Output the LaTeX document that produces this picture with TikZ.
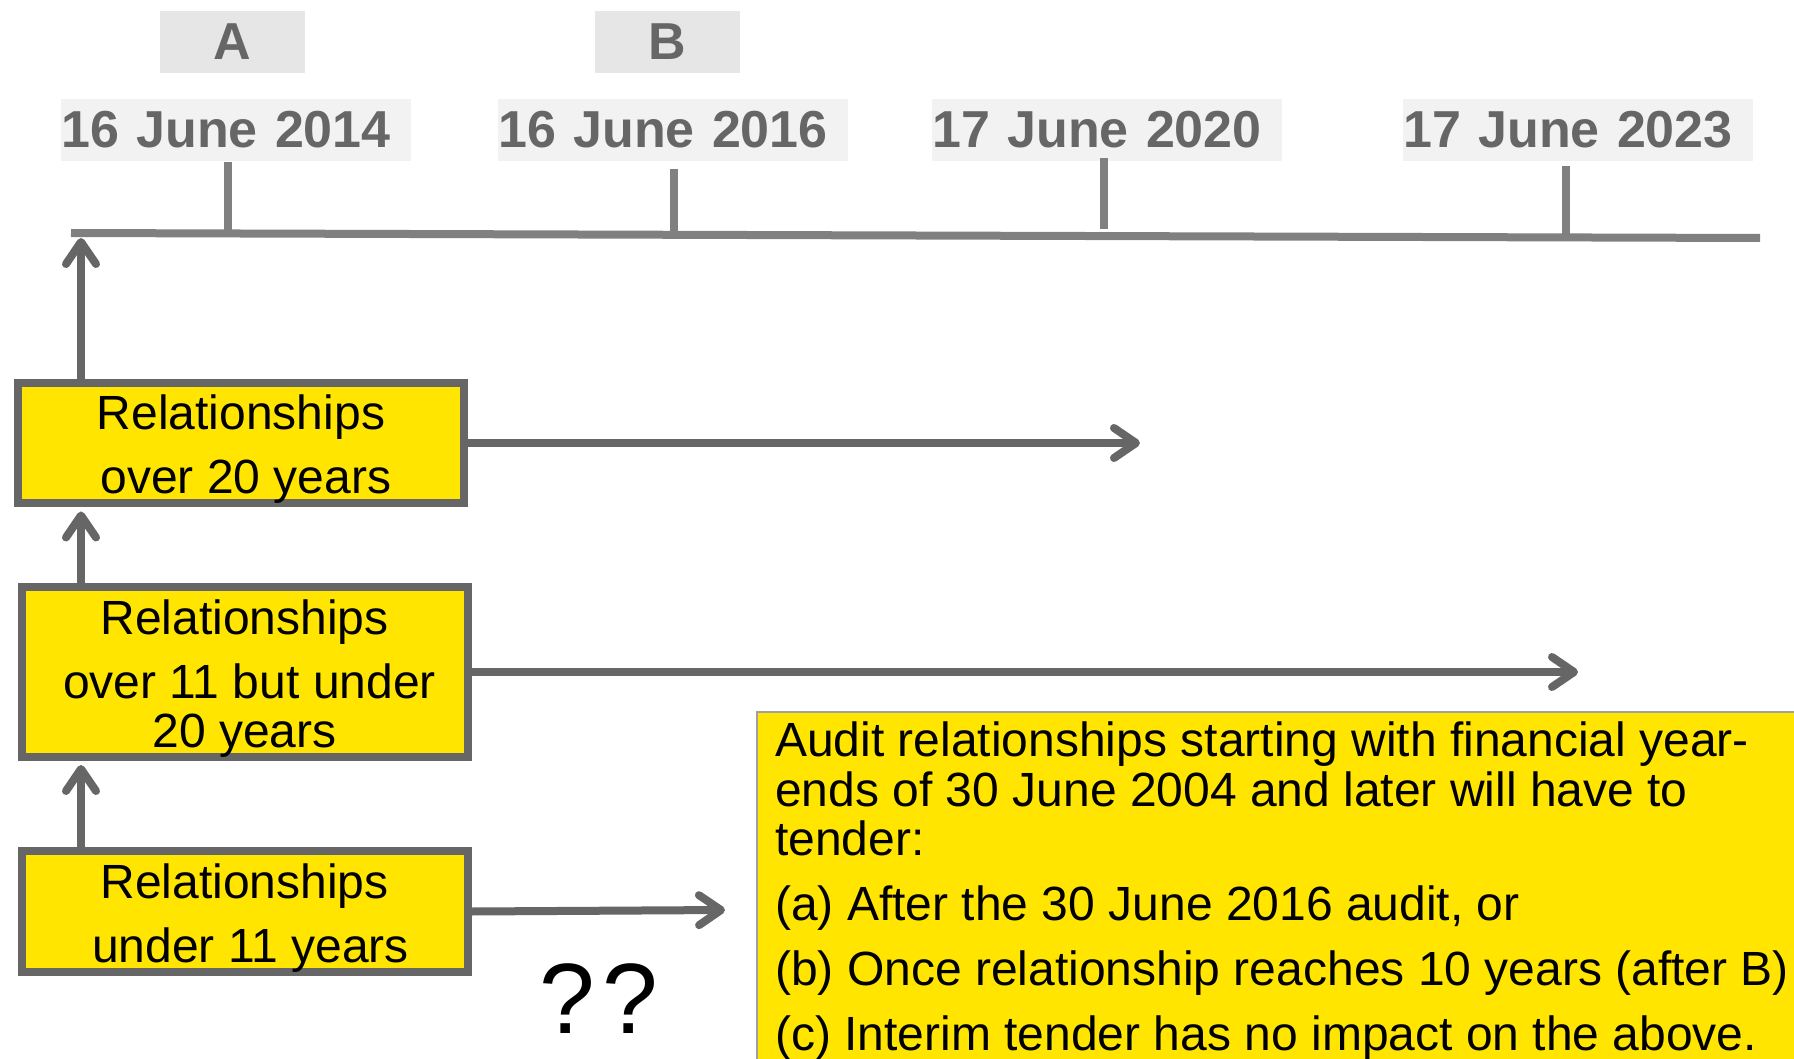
\documentclass[tikz,border=0pt]{standalone}
\usepackage{fontspec}
\setmainfont{Liberation Sans}
\usetikzlibrary{arrows.meta}
\definecolor{ylw}{HTML}{FFE500}
\definecolor{dgray}{HTML}{666666}
\definecolor{tlgray}{HTML}{808080}
\definecolor{datefill}{HTML}{F2F2F2}
\definecolor{letterfill}{HTML}{E6E6E6}
\definecolor{notegray}{HTML}{A0A0A0}
\begin{document}
\begin{tikzpicture}[x=1pt,y=-1pt,
  datebox/.style={fill=datefill, text=dgray, font=\fontsize{52}{60}\selectfont\bfseries,
    inner xsep=0pt, inner ysep=0pt, text width=350pt, align=left, minimum height=62pt, anchor=west},
  letterbox/.style={fill=letterfill, text=dgray, font=\fontsize{52}{60}\selectfont\bfseries,
    inner sep=0pt, minimum width=145pt, minimum height=62pt},
  relbox/.style={draw=dgray, line width=8pt, fill=ylw, font=\fontsize{48}{64}\selectfont,
    align=center, minimum width=446pt, inner sep=0pt},
  tickline/.style={draw=tlgray, line width=8pt},
  uparrow/.style={draw=dgray, line width=8pt,
    -{Straight Barb[round,length=22pt,width=30pt]}},
  rarrow/.style={draw=dgray, line width=8pt,
    -{Straight Barb[round,length=22pt,width=30pt]}},
  notebox/.style={draw=notegray, line width=2pt, fill=ylw, anchor=north west, inner sep=0pt},
  notetext/.style={font=\fontsize{48}{49.5}\selectfont, align=left, anchor=north west, inner sep=0pt},
]
\useasboundingbox (0,0) rectangle (1794,1059);

% letters
\node[letterbox] (la) at (232.5,42) {A};
\node[letterbox] (lb) at (667.5,42) {B};

% dates
\node[datebox] (d1) at (61,130) {16 June 2014};
\node[datebox] (d2) at (498,130) {16 June 2016};
\node[datebox] (d3) at (932,130) {17 June 2020};
\node[datebox] (d4) at (1403,130) {17 June 2023};

% timeline
\coordinate (tlstart) at (71,233);
\coordinate (tlend) at (1760,238);
\draw[draw=tlgray, line width=8pt] (tlstart) -- (tlend);
\draw[tickline] (228,162) -- (228,233);
\draw[tickline] (674,169) -- (674,235);
\draw[tickline] (1104,158) -- (1104,229);
\draw[tickline] (1566,166) -- (1566,237);

% relationship boxes
\node[relbox, minimum height=119pt] (b1) at (241,443) {\rule{0pt}{47pt}Relationships\\\hspace*{10pt}over 20 years};
\node[relbox, minimum height=168pt] (b2) at (244.5,672) {\rule{0pt}{47pt}Relationships\\\hspace*{10pt}over 11 but under\\[-15pt]20 years};
\node[relbox, minimum height=117pt] (b3) at (244.5,911.5) {\rule{0pt}{47pt}Relationships\\\hspace*{12pt}under 11 years};

% vertical arrows
\coordinate (colx) at (81,0);
\coordinate (tlhit) at (81,238);
\draw[uparrow] (b1.north -| colx) -- (tlhit);
\draw[uparrow, shorten >=4pt] (b2.north -| colx) -- (b1.south -| colx);
\draw[uparrow, shorten >=4pt] (b3.north -| colx) -- (b2.south -| colx);

% horizontal arrows
\coordinate (e1) at (1140,443);
\coordinate (e2) at (1578,672);
\coordinate (e3) at (725,910);
\draw[rarrow] (b1.east) -- (e1);
\draw[rarrow] (b2.east) -- (e2);
\draw[rarrow] (b3.east) -- (e3);

% question marks
\node[font=\fontsize{100}{100}\selectfont, inner sep=0pt] (qq) at (599,999) {?\kern8pt?};

% note box
\node[notebox, minimum width=1100pt, minimum height=400pt] (note) at (756,711) {};
\node[notetext] (notetxt) at (775,722) {Audit relationships starting with financial year-\\
ends of 30 June 2004 and later will have to\\
tender:\\[15.5pt]
(a) After the 30 June 2016 audit, or\\[15.5pt]
(b) Once relationship reaches 10 years (after B)\\[15.5pt]
(c) Interim tender has no impact on the above.};
\end{tikzpicture}
\end{document}
